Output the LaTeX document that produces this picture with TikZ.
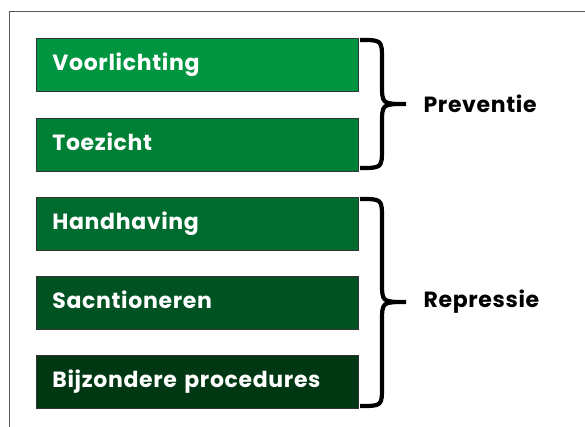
\documentclass[tikz,border=0pt]{standalone}
\usepackage{fontspec}
\setmainfont{Poppins}[BoldFont={* Bold}]
\usetikzlibrary{positioning,calc}

\definecolor{groen1}{RGB}{0,149,64}
\definecolor{groen2}{RGB}{0,128,52}
\definecolor{groen3}{RGB}{0,107,46}
\definecolor{groen4}{RGB}{0,82,34}
\definecolor{groen5}{RGB}{0,56,20}

\newcommand\vetletter{\bfseries\fontsize{22}{25}\selectfont\addfontfeatures{LetterSpace=3}}

\tikzset{
  taak/.style={rectangle, draw=black!80, line width=0.8pt, minimum width=318pt,
    minimum height=53pt, text width=290pt, align=left, inner xsep=16pt,
    text height=16pt, text depth=5pt,
    text=white, font=\vetletter, anchor=north west},
  accolade/.style={line width=4.2pt},
  groep/.style={anchor=west, font=\vetletter}
}

\begin{document}
\begin{tikzpicture}[x=1pt,y=-1pt]
        \useasboundingbox (0,0) rectangle (585,427);

        % kader
        \draw [black!65, line width=1pt] (9.5,427) -- (9.5,11.5) -- (585,11.5);

        \node [taak, fill=groen1] (voor) at (36,38) {Voorlichting};
        \node [taak, fill=groen2] (toez) at (36,118) {Toezicht};
        \node [taak, fill=groen3] (hand) at (36,197) {Handhaving};
        \node [taak, fill=groen4] (sanc) at (36,276) {Sacntioneren};
        \node [taak, fill=groen5] (bijz) at (36,355) {Bijzondere procedures};

        % accolades
        \draw [accolade] (360,40) .. controls (382,40) .. (382,60) -- (382,84)
            .. controls (382,104) .. (406,104)
            .. controls (382,104) .. (382,124) -- (382,148)
            .. controls (382,168) .. (360,168);
        \draw [accolade] (360,199) .. controls (382,199) .. (382,219) -- (382,282)
            .. controls (382,302) .. (406,302)
            .. controls (382,302) .. (382,322) -- (382,386)
            .. controls (382,406) .. (360,406);

        \node [groep] (prev) at (420,104) {Preventie};
        \node [groep] (repr) at (420,302) {Repressie};
    \end{tikzpicture}
\end{document}
